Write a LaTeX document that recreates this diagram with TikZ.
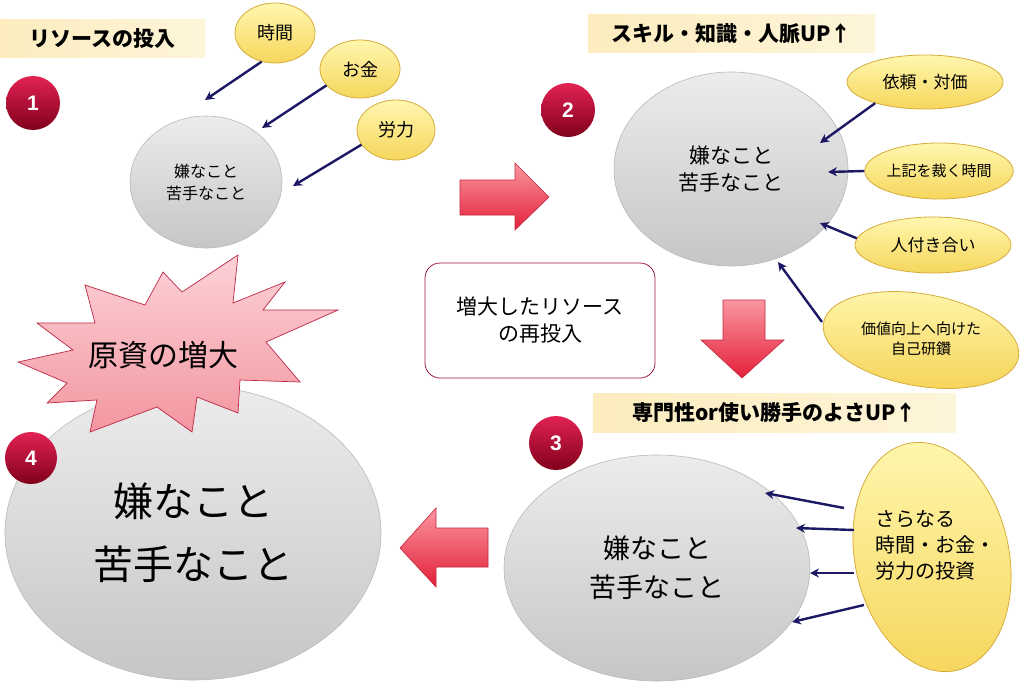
\documentclass[tikz,border=0pt]{standalone}
\usepackage{fontspec}
\setmainfont{Noto Sans CJK JP}
\newfontfamily\numfont{Liberation Sans}
\usetikzlibrary{arrows.meta,shapes.geometric}
\definecolor{arrowblue}{RGB}{28,24,100}
\definecolor{graytop}{RGB}{236,236,236}
\definecolor{graybot}{RGB}{198,198,198}
\definecolor{grayline}{RGB}{185,185,185}
\definecolor{yeltop}{RGB}{255,247,175}
\definecolor{yelbot}{RGB}{246,214,92}
\definecolor{yelline}{RGB}{214,172,60}
\definecolor{titleL}{RGB}{252,236,190}
\definecolor{titleR}{RGB}{253,245,218}
\definecolor{redtop}{RGB}{250,150,160}
\definecolor{redbot}{RGB}{228,32,58}
\definecolor{redline}{RGB}{196,40,62}
\definecolor{badgetop}{RGB}{226,34,82}
\definecolor{badgebot}{RGB}{128,0,28}
\definecolor{boxred}{RGB}{160,30,64}
\definecolor{startop}{RGB}{252,210,215}
\definecolor{starbot}{RGB}{243,150,160}
\definecolor{starline}{RGB}{190,40,70}
\begin{document}
\begin{tikzpicture}[x=1pt,y=-1pt,
  grayell/.style={ellipse, draw=grayline, line width=0.6pt, top color=graytop, bottom color=graybot, inner sep=0pt, align=center},
  yell/.style={ellipse, draw=yelline, line width=0.8pt, top color=yeltop, bottom color=yelbot, inner sep=0pt, align=center},
  titlebox/.style={rectangle, left color=titleL, right color=titleR, inner sep=0pt, font=\bfseries\fontsize{21}{21}\selectfont},
  badge/.style={circle, minimum size=54pt, inner sep=0pt, top color=badgetop, bottom color=badgebot, text=white, font=\numfont\bfseries\fontsize{21}{21}\selectfont},
  redarr/.style={draw=redline, line width=0.6pt, top color=redtop, bottom color=redbot},
  arr/.style={draw=arrowblue, line width=2.4pt, -{Stealth[length=9pt,width=9pt]}}
]
\useasboundingbox (0,0) rectangle (1024,685);
\fill[white] (0,0) rectangle (1024,685);

% titles
\node[titlebox, minimum width=205pt, minimum height=38pt] (t1) at (102.5,39) {リソースの投入};
\node[titlebox, minimum width=287pt, minimum height=38pt] (t2) at (731.5,34) {スキル・知識・人脈UP↑};
\node[titlebox, minimum width=363pt, minimum height=39pt] (t3) at (774.5,412.5) {専門性or使い勝手のよさUP↑};

% gray ellipses
\node[grayell, minimum width=152pt, minimum height=132pt, font=\fontsize{16}{22}\selectfont] (e1) at (206,182) {嫌なこと\\苦手なこと};
\node[grayell, minimum width=234pt, minimum height=194pt, font=\fontsize{21}{27}\selectfont] (e2) at (731,169) {嫌なこと\\苦手なこと};
\node[grayell, minimum width=306pt, minimum height=226pt, font=\fontsize{27}{39}\selectfont] (e3) at (657,568) {嫌なこと\\苦手なこと};
\node[grayell, minimum width=376pt, minimum height=294pt, font=\fontsize{40}{63}\selectfont] (e4) at (193,533) {嫌なこと\\苦手なこと};

% starburst
\path[draw=starline, line width=0.7pt, top color=startop, bottom color=starbot]
  (85,285) -- (145,305) -- (163,272) -- (182,292) -- (238,255) -- (233,303) -- (285,282) -- (263,310) -- (338,310) -- (266,342) -- (300,382) -- (240,380) -- (238,413) -- (197,397) -- (192,432) -- (157,407) -- (90,432) -- (97,400) -- (47,403) -- (67,383) -- (18,362) -- (73,350) -- (37,323) -- (95,323) -- cycle;
\node[font=\fontsize{30}{30}\selectfont] (star) at (163,355) {原資の増大};

% yellow ellipses
\node[yell, minimum width=80pt, minimum height=60pt, font=\fontsize{18}{18}\selectfont] (y1) at (275,33) {時間};
\node[yell, minimum width=80pt, minimum height=58pt, font=\fontsize{18}{18}\selectfont] (y2) at (360,69) {お金};
\node[yell, minimum width=78pt, minimum height=60pt, font=\fontsize{18}{18}\selectfont] (y3) at (396,130) {労力};
\node[yell, minimum width=156pt, minimum height=54pt, font=\fontsize{17}{17}\selectfont] (y4) at (925,82) {依頼・対価};
\node[yell, minimum width=148pt, minimum height=56pt, font=\fontsize{15}{15}\selectfont] (y5) at (939,171) {上記を裁く時間};
\node[yell, minimum width=156pt, minimum height=56pt, font=\fontsize{17}{17}\selectfont] (y6) at (933,245) {人付き合い};
\node[yell, minimum width=198pt, minimum height=92pt, rotate=-10] (y7) at (921,340) {};
\node[font=\fontsize{15}{20}\selectfont, align=center] (y7t) at (921,339) {価値向上へ向けた\\自己研鑽};
\node[yell, minimum width=154pt, minimum height=232pt, rotate=12] (y8) at (932,557) {};
\node[font=\fontsize{20}{26}\selectfont, align=left, anchor=west] (y8t) at (872,545) {さらなる\\時間・お金・\\労力の投資};

% rounded box
\node[draw=boxred, rounded corners=15pt, fill=white, minimum width=230pt, minimum height=115pt, line width=0.8pt, align=center, font=\fontsize{21}{27}\selectfont] (rb) at (540,320.5) {増大したリソース\\の再投入};

% red block arrows
\path[redarr] (460,180) -- (515,180) -- (515,163) -- (549,197) -- (515,230) -- (515,215) -- (460,215) -- cycle;
\path[redarr] (723,300) -- (765,300) -- (765,340) -- (784,340) -- (742,378) -- (701,340) -- (723,340) -- cycle;
\path[redarr] (488,528) -- (436,528) -- (436,508) -- (400,548) -- (436,587) -- (436,567) -- (488,567) -- cycle;

% badges
\node[badge] (b1) at (33,103) {1};
\node[badge] (b2) at (568,110) {2};
\node[badge] (b3) at (556,443) {3};
\node[badge, minimum size=52pt] (b4) at (31,458) {4};

% arrow heads (free ends)
\coordinate (h1) at (205,100);
\coordinate (h2) at (262,128);
\coordinate (h3) at (293,186);
\coordinate (h4) at (820,143);
\coordinate (h5) at (828,172);
\coordinate (h6) at (820,223);
\coordinate (h7) at (778,262);
\coordinate (h8) at (765,493);
\coordinate (h9) at (796,528);
\coordinate (h10) at (810,573);
\coordinate (h11) at (792,622);
\coordinate (s7) at (822,322);
\coordinate (s8) at (844,508);
\coordinate (s9) at (854,530);
\coordinate (s10) at (854,573);
\coordinate (s11) at (864,605);

\draw[arr] (y1.245) -- (h1);
\draw[arr] (y2.206) -- (h2);
\draw[arr] (y3.203) -- (h3);
\draw[arr] (y4.203) -- (h4);
\draw[arr] (y5.180) -- (h5);
\draw[arr] (y6.175) -- (h6);
\draw[arr] (s7) -- (h7);
\draw[arr] (s8) -- (h8);
\draw[arr] (s9) -- (h9);
\draw[arr] (s10) -- (h10);
\draw[arr] (s11) -- (h11);
\end{tikzpicture}
\end{document}
